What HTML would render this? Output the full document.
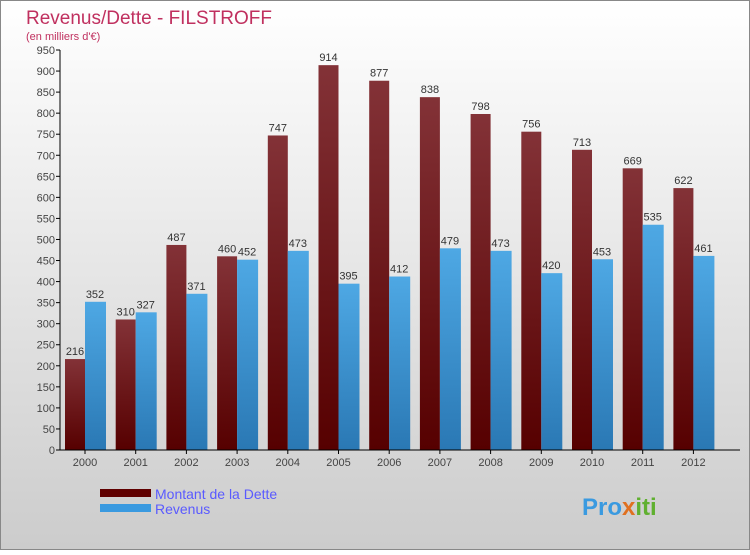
<!DOCTYPE html>
<html><head><meta charset="utf-8"><style>
body{margin:0}
svg text{font-family:"Liberation Sans",sans-serif}
</style></head><body>
<svg id="chart" width="750" height="550" xmlns="http://www.w3.org/2000/svg">
<defs>
<linearGradient id="bg" x1="0" y1="0" x2="0" y2="1"><stop offset="0" stop-color="#ffffff"/><stop offset="1" stop-color="#cccccc"/></linearGradient>
<linearGradient id="gd" x1="0" y1="0" x2="0" y2="1"><stop offset="0" stop-color="#833237"/><stop offset="1" stop-color="#560000"/></linearGradient>
<linearGradient id="gr" x1="0" y1="0" x2="0" y2="1"><stop offset="0" stop-color="#4ea8e4"/><stop offset="1" stop-color="#2a78b4"/></linearGradient>
</defs>
<rect x="0.5" y="0.5" width="749" height="549" fill="url(#bg)" stroke="#888"/>
<text x="26" y="24" font-size="19" fill="#c0305f">Revenus/Dette - FILSTROFF</text>
<text x="26" y="40" font-size="11" fill="#c0305f">(en milliers d'€)</text>
<g id="plot"></g>
<rect x="100" y="489" width="51" height="8" fill="#600000"/>
<rect x="100" y="504" width="51" height="8" fill="#3a9ae0"/>
<text x="155" y="499" font-size="14" fill="#5a5aff">Montant de la Dette</text>
<text x="155" y="514" font-size="14" fill="#5a5aff">Revenus</text>
<text x="582" y="515" font-size="24" font-weight="bold" fill="#3a9ae0">Pro<tspan fill="#e07020">x</tspan><tspan fill="#60b030">iti</tspan></text>
</svg>
<script>
const categories=["2000","2001","2002","2003","2004","2005","2006","2007","2008","2009","2010","2011","2012"];
const dette=[216,310,487,460,747,914,877,838,798,756,713,669,622];
const revenus=[352,327,371,452,473,395,412,479,473,420,453,535,461];
const yTicks=[0,50,100,150,200,250,300,350,400,450,500,550,600,650,700,750,800,850,900,950];
const NS="http://www.w3.org/2000/svg";
const g=document.getElementById('plot');
const x0=60,y0=450,yTop=50,yMax=950,step=50.7;
const y=v=>y0-(v/yMax)*(y0-yTop);
function mk(t,a,txt){const e=document.createElementNS(NS,t);for(const k in a)e.setAttribute(k,a[k]);if(txt!==undefined)e.textContent=txt;g.appendChild(e);return e;}
yTicks.forEach(v=>{
 const t=mk('line',{x1:x0-4,x2:x0,y1:y(v),y2:y(v),stroke:'#000'});
 
 const l=mk('text',{x:x0-5,y:y(v)+4,'font-size':11,fill:'#444','text-anchor':'end'},v);
 
});
categories.forEach((c,i)=>{
 const gx=x0+5+i*step;
 const b1=mk('rect',{x:gx,y:y(dette[i]),width:20,height:y0-y(dette[i]),fill:'url(#gd)'});
 
 const b2=mk('rect',{x:gx+20,y:y(revenus[i]),width:21,height:y0-y(revenus[i]),fill:'url(#gr)'});
 
 const l1=mk('text',{x:gx+10,y:y(dette[i])-4,'font-size':11,fill:'#333','text-anchor':'middle'},dette[i]);
 
 const l2=mk('text',{x:gx+30,y:y(revenus[i])-4,'font-size':11,fill:'#333','text-anchor':'middle'},revenus[i]);
 
 const xt=mk('line',{x1:gx+20,x2:gx+20,y1:y0,y2:y0+4,stroke:'#000'});
 
 const xl=mk('text',{x:gx+20,y:y0+16,'font-size':11,fill:'#444','text-anchor':'middle'},c);
 
});
const ya=mk('line',{x1:x0,x2:x0,y1:yTop,y2:y0,stroke:'#000'});

const xa=mk('line',{x1:x0,x2:740,y1:y0,y2:y0,stroke:'#000'});

</script>
</body></html>
